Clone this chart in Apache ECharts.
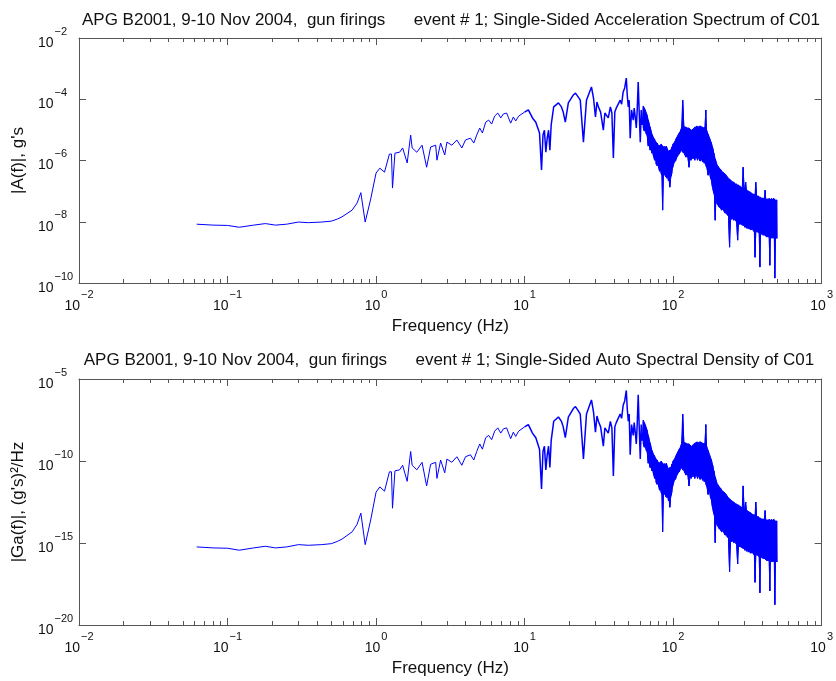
<!DOCTYPE html>
<html><head><meta charset="utf-8">
<script src="https://cdn.jsdelivr.net/npm/echarts@6/dist/echarts.min.js"></script>
<style>html,body{margin:0;padding:0;background:#fff}#c{width:836px;height:681px}</style>
</head><body><div id="c"></div>
<script>
// ---- data ----
// Part 1: the line traced point by point (0.06 - 62 Hz)
const traceFreqHz = [
  0.062,0.08,0.1,0.12,0.15,0.18,0.21,0.25,0.3,0.35,0.43,0.5,0.55,0.59,0.69,0.745,0.79,0.845,0.92,
  1.0,1.06,1.14,1.23,1.27,1.29,1.34,1.44,1.51,1.62,1.71,1.75,1.88,2.04,2.19,2.33,2.52,2.57,2.72,2.9,3.0,3.24,3.5,3.78,4.0,4.32,4.55,4.76,4.99,5.2,5.47,5.73,6.0,6.29,6.6,6.91,7.2,7.57,7.8,8.06,8.4,8.71,9.12,
  10,10.6,11.3,11.9,12.6,13.0,13.3,13.6,13.9,14.2,14.5,14.8,15.1,15.7,16.9,17.7,18.2,18.8,19.7,21.3,22.0,23.0,23.7,24.9,26.1,27.7,28.2,29.1,30.0,30.7,31.4,32.5,33.9,34.7,35.5,36.6,37.8,38.7,39.6,40.5,41.4,42.7,44.0,45.0,46.1,47.2,48.4,49.1,49.9,50.6,51.4,52.5,53.9,54.7,55.6,56.5,57.3,58.2,59.2,60.1,61,62
];
// log10 |A(f)| (g's)
const traceAccelLog10 = [
  -8.08,-8.11,-8.12,-8.18,-8.11,-8.06,-8.11,-8.08,-8.01,-8.03,-8.01,-7.98,-7.91,-7.84,-7.62,-7.39,-7.05,-8.01,-7.26,
  -6.41,-6.25,-6.38,-5.79,-5.79,-6.90,-5.76,-5.73,-5.59,-6.08,-5.17,-5.59,-5.73,-5.50,-6.22,-5.56,-5.50,-5.99,-5.43,-5.82,-5.40,-5.50,-5.33,-5.59,-5.33,-5.27,-5.43,-5.17,-4.94,-5.10,-4.75,-4.68,-4.81,-4.55,-4.45,-4.61,-4.48,-4.45,-4.61,-4.78,-4.58,-4.71,-4.55,
  -4.42,-4.35,-4.61,-4.75,-5.10,-6.31,-5.17,-5.01,-5.73,-5.27,-5.01,-5.66,-4.84,-4.25,-4.12,-4.25,-4.42,-4.75,-4.12,-3.86,-3.80,-3.93,-4.03,-5.40,-4.03,-3.70,-3.60,-3.96,-4.58,-4.09,-4.25,-4.42,-5.01,-4.45,-4.45,-4.61,-4.25,-4.45,-5.92,-4.42,-4.29,-4.35,-4.03,-4.16,-3.76,-3.63,-3.31,-3.86,-4.25,-4.03,-5.27,-4.35,-4.68,-4.29,-4.58,-4.94,-4.35,-3.44,-4.52,-5.40,-4.35,-4.84
];
// log10 |Ga(f)| ((g's)^2/Hz)
const traceAsdLog10 = [
  -15.24,-15.30,-15.32,-15.44,-15.30,-15.20,-15.30,-15.24,-15.10,-15.14,-15.10,-15.04,-14.90,-14.76,-14.32,-13.86,-13.18,-15.10,-13.60,
  -11.90,-11.58,-11.84,-10.66,-10.66,-12.88,-10.60,-10.54,-10.26,-11.24,-9.42,-10.26,-10.54,-10.08,-11.52,-10.20,-10.08,-11.06,-9.94,-10.72,-9.88,-10.08,-9.74,-10.26,-9.74,-9.62,-9.94,-9.42,-8.96,-9.28,-8.58,-8.44,-8.70,-8.18,-7.98,-8.30,-8.04,-7.98,-8.30,-8.64,-8.24,-8.50,-8.18,
  -7.92,-7.78,-8.30,-8.58,-9.28,-11.70,-9.42,-9.10,-10.54,-9.62,-9.10,-10.40,-8.76,-7.58,-7.32,-7.58,-7.92,-8.58,-7.32,-6.80,-6.68,-6.94,-7.14,-9.88,-7.14,-6.48,-6.28,-7.00,-8.24,-7.26,-7.58,-7.92,-9.10,-7.98,-7.98,-8.30,-7.58,-7.98,-10.92,-7.92,-7.66,-7.78,-7.14,-7.40,-6.60,-6.34,-5.70,-6.80,-7.58,-7.14,-9.62,-7.78,-8.44,-7.66,-8.24,-8.96,-7.78,-5.96,-8.12,-9.88,-7.78,-8.76
];
// Part 2: the dense noisy band (63 - 500 Hz): highest and lowest excursion read at each frequency
const bandFreqHz = [
  63,64,65,66,67,68,69,70,71,72,73,74,75,76,77,78,79,80,81,82,83,84,85,86,87,88,89,90,91,92,93,94,95,96,97,98,99,100,
  102,104,106,108,110,112,114,116,118,120,122,124,126,128,130,132,134,136,138,140,142,144,146,148,150,152,154,156,158,160,162,164,166,168,170,172,174,176,178,180,182,184,186,188,190,192,194,196,198,200,
  204,208,212,216,220,224,228,232,236,240,244,248,252,256,260,264,268,272,276,280,284,288,292,296,300,304,308,312,316,320,324,328,332,336,340,344,348,352,356,360,
  364,368,372,376,380,384,388,392,396,400,404,408,412,416,420,424,428,432,436,440,444,448,452,456,460,464,468,472,476,480,484,488,492,496,500
];
const bandAccelHiLog10 = [
  -4.22,-4.29,-4.35,-4.45,-4.55,-4.68,-4.81,-4.91,-5.04,-5.14,-5.20,-5.27,-5.30,-5.37,-5.40,-5.43,-5.50,-5.50,-5.53,-5.50,-5.46,-5.50,-5.56,-5.56,-5.53,-5.59,-5.56,-5.53,-5.59,-5.66,-5.69,-5.73,-5.66,-5.66,-5.63,-5.56,-5.53,-5.46,
  -5.40,-5.33,-5.24,-5.17,-5.10,-5.04,-4.94,-4.03,-4.88,-4.91,-4.91,-4.94,-4.94,-4.94,-4.97,-5.01,-5.01,-4.97,-4.94,-4.91,-4.91,-4.88,-4.88,-4.91,-4.88,-4.88,-4.88,-4.91,-4.91,-4.94,-4.91,-4.94,-4.35,-5.01,-5.07,-5.14,-5.20,-5.27,-5.33,-5.40,-5.46,-5.56,-5.66,-5.76,-5.86,-5.95,-6.02,-6.09,-6.15,-6.18,
  -6.25,-6.28,-6.35,-6.38,-6.41,-6.44,-6.48,-6.54,-6.58,-6.61,-6.64,-6.67,-6.71,-6.71,-6.74,-6.77,-6.77,-6.80,-6.80,-6.84,-6.84,-6.87,-6.90,-6.22,-6.90,-6.93,-6.71,-6.97,-6.97,-7.00,-7.00,-7.03,-7.03,-7.07,-7.07,-7.10,-7.10,-7.10,-7.13,-6.71,
  -7.13,-7.16,-7.16,-7.16,-7.20,-7.20,-7.20,-7.23,-7.23,-7.23,-7.23,-7.23,-7.26,-6.97,-7.26,-7.26,-7.26,-7.26,-7.26,-7.26,-7.23,-7.26,-7.29,-7.26,-7.23,-7.26,-7.29,-7.26,-7.23,-7.26,-7.29,-7.29,-7.29,-7.29,-7.29
];
const bandAccelLoLog10 = [
  -4.94,-5.04,-4.97,-5.14,-5.20,-5.53,-5.46,-5.66,-5.63,-5.76,-5.73,-5.89,-5.99,-5.92,-6.12,-6.18,-6.09,-6.25,-6.35,-6.28,-6.41,-6.48,-7.62,-6.38,-6.48,-6.41,-6.54,-6.48,-6.58,-6.54,-6.67,-6.64,-6.87,-6.61,-6.51,-6.41,-6.25,-6.18,
  -6.05,-6.02,-5.89,-5.82,-5.79,-5.69,-5.66,-5.73,-5.73,-5.82,-5.89,-5.82,-5.92,-6.22,-5.92,-5.99,-5.89,-5.95,-5.89,-5.99,-5.86,-5.92,-5.99,-5.89,-5.95,-6.02,-5.92,-5.99,-6.05,-5.99,-6.09,-6.05,-6.15,-6.22,-6.31,-6.48,-6.38,-6.41,-6.54,-6.61,-6.71,-6.87,-6.97,-7.07,-7.16,-7.95,-7.29,-7.36,-7.42,-7.46,
  -7.52,-7.56,-7.62,-7.59,-7.65,-7.72,-7.69,-7.78,-7.82,-8.83,-7.85,-7.92,-7.88,-7.95,-7.92,-7.98,-8.01,-8.60,-8.01,-8.08,-8.05,-8.11,-8.08,-8.14,-8.11,-8.18,-8.14,-8.21,-8.18,-8.24,-8.21,-8.24,-8.27,-8.21,-8.27,-8.24,-8.31,-8.27,-9.16,-8.31,
  -8.27,-8.34,-8.31,-8.37,-8.34,-9.48,-8.37,-8.34,-8.41,-8.37,-8.44,-8.41,-8.44,-8.41,-8.47,-8.44,-8.50,-8.47,-8.50,-8.47,-8.54,-9.42,-8.50,-8.54,-8.50,-8.54,-8.50,-8.54,-8.50,-8.54,-9.84,-8.50,-8.54,-8.50,-8.54
];
const bandAsdHiLog10 = [
  -7.52,-7.66,-7.78,-7.98,-8.18,-8.44,-8.70,-8.90,-9.16,-9.36,-9.48,-9.62,-9.68,-9.82,-9.88,-9.94,-10.08,-10.08,-10.14,-10.08,-10.00,-10.08,-10.20,-10.20,-10.14,-10.26,-10.20,-10.14,-10.26,-10.40,-10.46,-10.54,-10.40,-10.40,-10.34,-10.20,-10.14,-10.00,
  -9.88,-9.74,-9.56,-9.42,-9.28,-9.16,-8.96,-7.14,-8.84,-8.90,-8.90,-8.96,-8.96,-8.96,-9.02,-9.10,-9.10,-9.02,-8.96,-8.90,-8.90,-8.84,-8.84,-8.90,-8.84,-8.84,-8.84,-8.90,-8.90,-8.96,-8.90,-8.96,-7.78,-9.10,-9.22,-9.36,-9.48,-9.62,-9.74,-9.88,-10.00,-10.20,-10.40,-10.60,-10.80,-10.98,-11.12,-11.26,-11.38,-11.44,
  -11.58,-11.64,-11.78,-11.84,-11.90,-11.96,-12.04,-12.16,-12.24,-12.30,-12.36,-12.42,-12.50,-12.50,-12.56,-12.62,-12.62,-12.68,-12.68,-12.76,-12.76,-12.82,-12.88,-11.52,-12.88,-12.94,-12.50,-13.02,-13.02,-13.08,-13.08,-13.14,-13.14,-13.22,-13.22,-13.28,-13.28,-13.28,-13.34,-12.50,
  -13.34,-13.40,-13.40,-13.40,-13.48,-13.48,-13.48,-13.54,-13.54,-13.54,-13.54,-13.54,-13.60,-13.02,-13.60,-13.60,-13.60,-13.60,-13.60,-13.60,-13.54,-13.60,-13.66,-13.60,-13.54,-13.60,-13.66,-13.60,-13.54,-13.60,-13.66,-13.66,-13.66,-13.66,-13.66
];
const bandAsdLoLog10 = [
  -8.96,-9.16,-9.02,-9.36,-9.48,-10.14,-10.00,-10.40,-10.34,-10.60,-10.54,-10.86,-11.06,-10.92,-11.32,-11.44,-11.26,-11.58,-11.78,-11.64,-11.90,-12.04,-14.32,-11.84,-12.04,-11.90,-12.16,-12.04,-12.24,-12.16,-12.42,-12.36,-12.82,-12.30,-12.10,-11.90,-11.58,-11.44,
  -11.18,-11.12,-10.86,-10.72,-10.66,-10.46,-10.40,-10.54,-10.54,-10.72,-10.86,-10.72,-10.92,-11.52,-10.92,-11.06,-10.86,-10.98,-10.86,-11.06,-10.80,-10.92,-11.06,-10.86,-10.98,-11.12,-10.92,-11.06,-11.18,-11.06,-11.26,-11.18,-11.38,-11.52,-11.70,-12.04,-11.84,-11.90,-12.16,-12.30,-12.50,-12.82,-13.02,-13.22,-13.40,-14.98,-13.66,-13.80,-13.92,-14.00,
  -14.12,-14.20,-14.32,-14.26,-14.38,-14.52,-14.46,-14.64,-14.72,-16.74,-14.78,-14.92,-14.84,-14.98,-14.92,-15.04,-15.10,-16.28,-15.10,-15.24,-15.18,-15.30,-15.24,-15.36,-15.30,-15.44,-15.36,-15.50,-15.44,-15.56,-15.50,-15.56,-15.62,-15.50,-15.62,-15.56,-15.70,-15.62,-17.40,-15.70,
  -15.62,-15.76,-15.70,-15.82,-15.76,-18.04,-15.82,-15.76,-15.90,-15.82,-15.96,-15.90,-15.96,-15.90,-16.02,-15.96,-16.08,-16.02,-16.08,-16.02,-16.16,-17.92,-16.08,-16.16,-16.08,-16.16,-16.08,-16.16,-16.08,-16.16,-18.76,-16.08,-16.16,-16.08,-16.16
];

const topTitle = "APG B2001, 9-10 Nov 2004,  gun firings      event # 1; Single-Sided Acceleration Spectrum of C01";
const bottomTitle = "APG B2001, 9-10 Nov 2004,  gun firings      event # 1; Single-Sided Auto Spectral Density of C01";
const xName = "Frequency (Hz)";
const topYName = "|A(f)|, g's";
const bottomYName = "|Ga(f)|, (g's)\u00B2/Hz";

[traceAccelLog10, traceAsdLog10].forEach(a => { if (a.length !== traceFreqHz.length) throw new Error('trace length ' + a.length + ' vs ' + traceFreqHz.length); });
[bandAccelHiLog10, bandAccelLoLog10, bandAsdHiLog10, bandAsdLoLog10].forEach(a => { if (a.length !== bandFreqHz.length) throw new Error('band length ' + a.length + ' vs ' + bandFreqHz.length); });

// traced part, split where the recorded line becomes visibly heavier (from 10 Hz on)
const heavyFrom = traceFreqHz.indexOf(10);
function traceLine(traceLog, from, to) {
  const pts = [];
  for (let i = from; i <= to; i++) pts.push([traceFreqHz[i], Math.pow(10, traceLog[i])]);
  return pts;
}
// band strokes: up/down at each read frequency, continuing from the last traced point
function bandLine(traceLog, hiLog, loLog) {
  const last = traceFreqHz.length - 1;
  const pts = [[traceFreqHz[last], Math.pow(10, traceLog[last])]];
  bandFreqHz.forEach((f, i) => {
    const hi = [f, Math.pow(10, hiLog[i])], lo = [f, Math.pow(10, loLog[i])];
    if (i % 2 === 0) { pts.push(hi, lo); } else { pts.push(lo, hi); }
  });
  return pts;
}

const FONT = '"Liberation Sans", Arial, sans-serif';
const AX = '#555';
const TXT = '#111';
const BLUE = '#0000ff';
function powLabel(v) {
  const e = Math.round(Math.log10(v));
  return '{b|10}{e|' + (e < 0 ? '\u2212' + (-e) : e) + '}';
}
const rich = {
  b: { fontSize: 14, fontFamily: FONT, color: TXT, lineHeight: 24, verticalAlign: 'bottom' },
  e: { fontSize: 11, fontFamily: FONT, color: TXT, verticalAlign: 'top', padding: [0, 0, 0, 1] }
};

function xAxes(grid) {
  const base = {
    type: 'log', logBase: 10, gridIndex: grid, min: 0.01, max: 1000, interval: 1,
    splitLine: { show: false },
    axisLine: { show: true, lineStyle: { color: AX, width: 1 } },
    axisTick: { show: true, inside: true, length: 7, lineStyle: { color: AX } },
    minorTick: { show: true, splitNumber: 9, length: 4, lineStyle: { color: AX } }
  };
  return [
    Object.assign({}, base, {
      position: 'bottom',
      axisLabel: { show: true, margin: 6, interval: 0, formatter: powLabel, rich: rich },
      name: xName, nameLocation: 'middle', nameGap: 35,
      nameTextStyle: { fontSize: 17, fontFamily: FONT, color: TXT }
    }),
    Object.assign({}, base, { position: 'top', axisLabel: { show: false } })
  ];
}
function yAxes(grid, min, max, interval, name) {
  const base = {
    type: 'log', logBase: 10, gridIndex: grid, min: min, max: max, interval: interval,
    splitLine: { show: false },
    axisLine: { show: true, lineStyle: { color: AX, width: 1 } },
    axisTick: { show: true, inside: true, length: 7, lineStyle: { color: AX } }
  };
  return [
    Object.assign({}, base, {
      position: 'left',
      axisLabel: { show: true, margin: 41, formatter: powLabel, rich: rich, align: 'left' },
      name: name, nameLocation: 'middle', nameGap: 47,
      nameTextStyle: { fontSize: 17, fontFamily: FONT, color: TXT }
    }),
    Object.assign({}, base, { position: 'right', axisLabel: { show: false } })
  ];
}

function lineSeries(xi, yi, data, width) {
  return { type: 'line', xAxisIndex: xi, yAxisIndex: yi, data: data, showSymbol: false, symbol: 'none',
    lineStyle: { color: BLUE, width: width }, silent: true, z: 3 };
}
// the densely filled part of the band: a polygon through the read high points and back along the read low points
function bandFill(xi, yi, hiLog, loLog) {
  return {
    type: 'custom', xAxisIndex: xi, yAxisIndex: yi, silent: true, clip: true, z: 2,
    data: [[bandFreqHz[0], Math.pow(10, hiLog[0])]],
    renderItem: function (params, api) {
      const pts = [];
      for (let i = 0; i < bandFreqHz.length; i++) pts.push(api.coord([bandFreqHz[i], Math.pow(10, hiLog[i])]));
      for (let i = bandFreqHz.length - 1; i >= 0; i--) pts.push(api.coord([bandFreqHz[i], Math.pow(10, loLog[i])]));
      return { type: 'polygon', shape: { points: pts }, style: { fill: BLUE, stroke: BLUE, lineWidth: 1 } };
    }
  };
}
function plotSeries(xi, yi, traceLog, hiLog, loLog) {
  const last = traceFreqHz.length - 1;
  return [
    lineSeries(xi, yi, traceLine(traceLog, 0, heavyFrom), 1),
    lineSeries(xi, yi, traceLine(traceLog, heavyFrom, last), 1.5),
    bandFill(xi, yi, hiLog, loLog),
    lineSeries(xi, yi, bandLine(traceLog, hiLog, loLog), 1)
  ];
}

const chart = echarts.init(document.getElementById('c'), null, { renderer: 'canvas' });
chart.setOption({
  backgroundColor: '#fff',
  animation: false,
  title: [
    { text: topTitle, left: 446, top: 7, textAlign: 'center',
      textStyle: { fontSize: 17, fontWeight: 'normal', fontFamily: FONT, color: TXT } },
    { text: bottomTitle, left: 444, top: 347, textAlign: 'center',
      textStyle: { fontSize: 17, fontWeight: 'normal', fontFamily: FONT, color: TXT } }
  ],
  grid: [
    { left: 79, top: 38, width: 745, height: 245, containLabel: false },
    { left: 79, top: 379, width: 745, height: 246, containLabel: false }
  ],
  xAxis: xAxes(0).concat(xAxes(1)),
  yAxis: yAxes(0, 1e-10, 1e-2, 2, topYName).concat(yAxes(1, 1e-20, 1e-5, 5, bottomYName)),
  series: plotSeries(0, 0, traceAccelLog10, bandAccelHiLog10, bandAccelLoLog10)
    .concat(plotSeries(2, 2, traceAsdLog10, bandAsdHiLog10, bandAsdLoLog10))
});
</script>
</body></html>
